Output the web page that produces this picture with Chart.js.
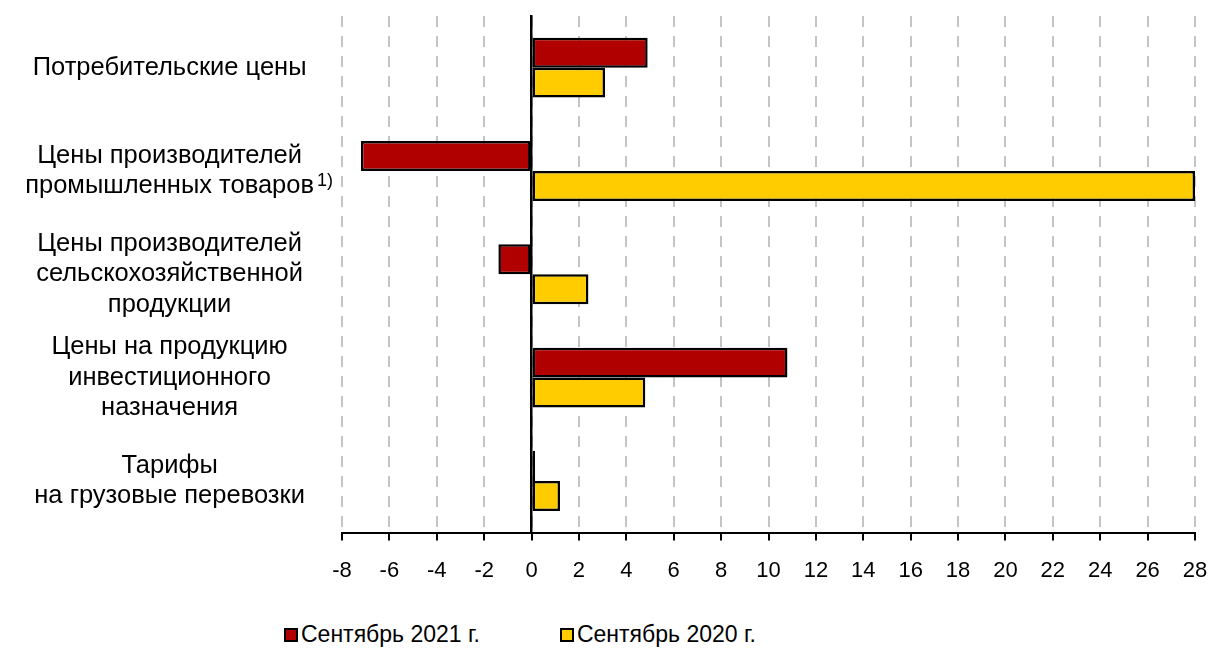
<!DOCTYPE html>
<html>
<head>
<meta charset="utf-8">
<script src="https://cdn.jsdelivr.net/npm/chart.js@4.4.1/dist/chart.umd.min.js"></script>
<style>
  body { margin: 0; background: #fff; font-family: "Liberation Sans", Arial, sans-serif; }
  #wrap { position: relative; width: 1210px; height: 605px; }
  #legend { position: absolute; left: 284px; top: 621px; display: flex; font-size: 23px; color: #000; }
  .item { display: flex; align-items: center; margin-right: 80px; }
  .box { width: 10px; height: 10px; border: 2px solid #000; margin-right: 3px; }
</style>
</head>
<body>
<div id="wrap"><canvas id="chart"></canvas></div>
<div id="legend"></div>
<script>
const categories = [
    ['Потребительские цены'],
    ['Цены производителей', 'промышленных товаров'],
    ['Цены производителей', 'сельскохозяйственной', 'продукции'],
    ['Цены на продукцию', 'инвестиционного', 'назначения'],
    ['Тарифы', 'на грузовые перевозки']
];
const seriesNames = ['Сентябрь 2021 г.', 'Сентябрь 2020 г.'];
const sep2021 = [4.9, -7.2, -1.4, 10.8, 0.15];
const sep2020 = [3.1, 28.0, 2.4, 4.8, 1.2];
const xMin = -8, xMax = 28, xStep = 2;
const footnote = '1)';

const FONT = '"Liberation Sans", Arial, sans-serif';
const RED = '#B00000';
const YELLOW = '#FFCC00';
const LABEL_SIZE = 25.5;
const Y_PAD = 28;

// superscript "1)" after the second category label
const footnotePlugin = {
    id: 'footnote',
    afterDraw(chart) {
        var ys = chart.scales.y;
        var ctx = chart.ctx;
        ctx.save();
        ctx.font = LABEL_SIZE + 'px ' + FONT;
        var widest = 0;
        for (var c of categories) for (var l of c) widest = Math.max(widest, ctx.measureText(l).width);
        var cx = ys.right - Y_PAD - widest / 2;
        var lineW = ctx.measureText(categories[1][1]).width;
        var y = ys.getPixelForTick(1);
        ctx.font = '18px ' + FONT;
        ctx.fillStyle = '#000';
        ctx.textBaseline = 'alphabetic';
        ctx.fillText(footnote, cx + lineW / 2 + 3, y + 15);
        ctx.restore();
    }
};

const chart = new Chart(document.getElementById('chart'), {
    type: 'bar',
    data: {
        labels: categories,
        datasets: [{
            label: seriesNames[0],
            data: sep2021,
            backgroundColor: RED,
            borderColor: '#000',
            borderWidth: 2.5,
            borderSkipped: false
        }, {
            label: seriesNames[1],
            data: sep2020,
            backgroundColor: YELLOW,
            borderColor: '#000',
            borderWidth: 2.5,
            borderSkipped: false
        }]
    },
    options: {
        indexAxis: 'y',
        responsive: true,
        maintainAspectRatio: false,
        animation: false,
        devicePixelRatio: 1,
        layout: { padding: { top: 16, right: 15, bottom: 4, left: 0 } },
        datasets: { bar: { categoryPercentage: 0.58, barPercentage: 1 } },
        plugins: { legend: { display: false }, tooltip: { enabled: false } },
        scales: {
            x: {
                min: xMin,
                max: xMax,
                ticks: { stepSize: xStep, color: '#000', font: { family: FONT, size: 22 }, padding: 17, maxRotation: 0, autoSkip: false },
                grid: { color: '#C4C4C4', lineWidth: 2, tickColor: '#000', tickWidth: 2, tickLength: 8 },
                border: { display: true, color: '#000', width: 2, dash: [11, 9] },
                afterFit(scale) {
                    scale.paddingLeft = 0;
                    scale.paddingRight = 0;
                }
            },
            y: {
                ticks: { color: '#000', font: { family: FONT, size: LABEL_SIZE, lineHeight: 1.2 }, crossAlign: 'center', padding: Y_PAD, autoSkip: false },
                grid: { display: false, drawTicks: false },
                border: { display: false },
                afterFit(scale) {
                    scale.width = 342;
                    scale.paddingTop = 0;
                    scale.paddingBottom = 0;
                }
            },
            y0: {
                type: 'category',
                position: { x: 0 },
                z: 1,
                ticks: { display: false },
                grid: { display: false, drawTicks: false },
                border: { display: true, color: '#000', width: 2.5 },
                afterFit(scale) {
                    scale.width = 0;
                    scale.paddingTop = 0;
                    scale.paddingBottom = 0;
                }
            }
        }
    },
    plugins: [footnotePlugin]
});

// legend built from the chart datasets
var legend = document.getElementById('legend');
for (var ds of chart.data.datasets) {
    var item = document.createElement('div');
    item.className = 'item';
    item.innerHTML = '<div class="box" style="background:' + ds.backgroundColor + '"></div><span>' + ds.label + '</span>';
    legend.appendChild(item);
}
</script>
</body>
</html>
